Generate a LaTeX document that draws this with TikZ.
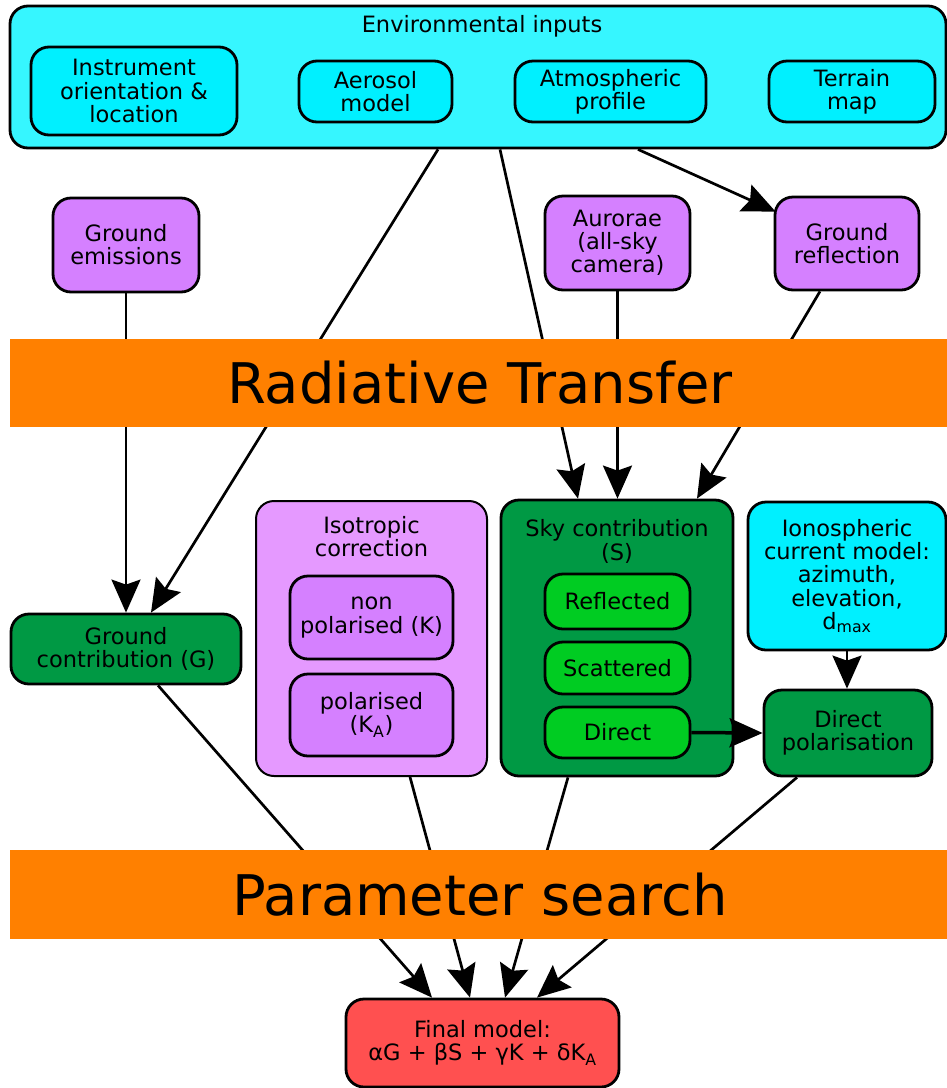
\documentclass[tikz,border=0pt]{standalone}
\usepackage{fontspec}
\setmainfont{DejaVu Sans}
\usetikzlibrary{arrows.meta}
\pgfdeclarelayer{edges}
\pgfsetlayers{edges,main}
\definecolor{envc}{HTML}{36F6FF}
\definecolor{cyanc}{HTML}{00F0FF}
\definecolor{violc}{HTML}{D580FF}
\definecolor{lviolc}{HTML}{E599FF}
\definecolor{dgreen}{HTML}{009944}
\definecolor{bgreen}{HTML}{00CC22}
\definecolor{orangec}{HTML}{FF8000}
\definecolor{redc}{HTML}{FF5050}
\newcommand{\nfs}{\fontsize{22.5pt}{23.2pt}\selectfont}
\newcommand{\bfsz}{\fontsize{56pt}{60pt}\selectfont}
\tikzset{
  box/.style={draw, line width=2.8pt, rounded corners=18pt, align=center, font=\nfs, inner sep=0pt},
  lbl/.style={align=center, font=\nfs, inner sep=0pt},
  band/.style={fill=orangec, draw=none, inner sep=0pt, font=\bfsz},
  conn/.style={line width=2.7pt, -{Stealth[length=33pt,width=29pt,inset=5pt]}},
}
\begin{document}
\begin{tikzpicture}[x=1pt,y=-1pt]
\useasboundingbox (0,0) rectangle (947,1088);
% environmental inputs
\node[box, fill=envc, minimum width=936pt, minimum height=142pt] (env) at (478,77) {};
\node[lbl] (envt) at (482,26) {Environmental inputs};
\node[box, fill=cyanc, minimum width=206pt, minimum height=88pt] (instr) at (134,91) {Instrument\\orientation \&\\location};
\node[box, fill=cyanc, minimum width=153pt, minimum height=61pt] (aero) at (375.5,91.5) {Aerosol\\model};
\node[box, fill=cyanc, minimum width=191pt, minimum height=61pt] (atmo) at (610.5,91.5) {Atmospheric\\profile};
\node[box, fill=cyanc, minimum width=166pt, minimum height=61pt] (terr) at (852,91.5) {Terrain\\map};
% sources
\node[box, fill=violc, minimum width=146pt, minimum height=94pt] (gem) at (126,245) {Ground\\emissions};
\node[box, fill=violc, minimum width=145pt, minimum height=94pt] (aur) at (617.5,243) {Aurorae\\(all-sky\\camera)};
\node[box, fill=violc, minimum width=144pt, minimum height=93pt] (gref) at (847,243.5) {Ground\\reflection};
% bands
\node[band, minimum width=940pt, minimum height=88pt] (rt) at (480,383) {Radiative Transfer};
\node[band, minimum width=940pt, minimum height=89pt] (ps) at (480,894.5) {Parameter search};
% contributions
\node[box, fill=dgreen, minimum width=230pt, minimum height=70pt] (G) at (126,649) {Ground\\contribution (G)};
\node[box, fill=lviolc, line width=2pt, minimum width=231pt, minimum height=275pt] (iso) at (371.5,638.5) {};
\node[lbl] (isot) at (371.5,536.5) {Isotropic\\correction};
\node[box, fill=violc, minimum width=163pt, minimum height=83pt] (nonpol) at (371.5,617.5) {non\\polarised (K)};
\node[box, fill=violc, minimum width=163pt, minimum height=82pt] (pol) at (371.5,715) {polarised\\(K\textsubscript{A})};
\node[box, fill=dgreen, minimum width=232pt, minimum height=276pt] (sky) at (617,638) {};
\node[lbl] (skyt) at (617,541.5) {Sky contribution\\(S)};
\node[box, fill=bgreen, minimum width=145pt, minimum height=55pt] (refl) at (617.5,601.5) {Reflected};
\node[box, fill=bgreen, minimum width=145pt, minimum height=52pt] (scat) at (617.5,668) {Scattered};
\node[box, fill=bgreen, minimum width=145pt, minimum height=51pt] (direct) at (617.5,732.5) {Direct};
\node[box, fill=cyanc, minimum width=198pt, minimum height=148pt] (iono) at (847,576) {Ionospheric\\current model:\\azimuth,\\elevation,\\d\textsubscript{max}};
\node[box, fill=dgreen, minimum width=168pt, minimum height=86pt] (dpol) at (848,733) {Direct\\polarisation};
\node[box, fill=redc, minimum width=273pt, minimum height=88pt] (final) at (482.5,1043) {Final model:\\αG + βS + γK + δK\textsubscript{A}};
% connectors
\begin{pgfonlayer}{edges}
\draw[conn] ([xshift=-40pt]env.south) -- ([xshift=25pt]G.north);
\draw[conn] ([xshift=22pt]env.south) -- ([xshift=-39pt]sky.north);
\draw[conn] ([xshift=160pt]env.south) -- ([yshift=-16pt,xshift=2pt]gref.north west);
\draw[conn] (gem.south) -- (G.north);
\draw[conn] (aur.south) -- ([xshift=0.5pt]sky.north);
\draw[conn] ([xshift=-27pt]gref.south) -- ([xshift=80pt]sky.north);
\draw[conn] (iono.south) -- ([xshift=-1pt]dpol.north);
\draw[conn] ([xshift=32pt]G.south) -- ([xshift=-50.5pt]final.north);
\draw[conn] ([xshift=38.5pt]iso.south) -- ([xshift=-12.5pt]final.north);
\draw[conn] ([xshift=-49pt]sky.south) -- ([xshift=22.5pt]final.north);
\draw[conn] ([xshift=-51pt]dpol.south) -- ([xshift=54.5pt]final.north);
\end{pgfonlayer}
\draw[conn, line width=3.5pt] (direct.east) -- (dpol.west);
\end{tikzpicture}
\end{document}
